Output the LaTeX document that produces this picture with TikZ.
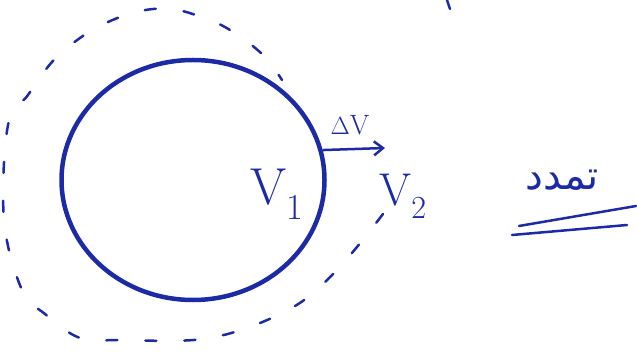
\documentclass[tikz,border=0pt]{standalone}
\usepackage{fontspec}
\newfontfamily\arabicfont[Script=Arabic]{DejaVu Sans}
\TeXXeTstate=1
\usepackage{xcolor}
\definecolor{inkblue}{RGB}{28,42,165}
\usepackage{tikz}
\usetikzlibrary{shapes.geometric, arrows.meta, positioning}

\begin{document}
\begin{tikzpicture}[x=1pt, y=-1pt,
  bubble/.style={ellipse, draw=inkblue, line width=4.5pt,
                 minimum width=263pt, minimum height=240pt, inner sep=0pt},
  shell/.style={draw=inkblue, line width=2.5pt, line cap=round,
                dash pattern=on 11pt off 28pt},
  lbl/.style={text=inkblue, inner sep=0pt},
  arr/.style={-{Straight Barb[length=9pt, width=14pt]}, draw=inkblue, line width=2.5pt},
  uline/.style={draw=inkblue, line width=2.5pt, line cap=round}
]
\useasboundingbox (0,0) rectangle (637,355);
% balloon before and after
\node[bubble] (balloon) at (193,180) {};
\draw[shell] plot[smooth, tension=0.6] coordinates {(383,214) (336,271) (288,310) (210,338) (120,340) (80,338) (45,314) (22,290) (4,220) (8,125) (28,95) (52,62) (80,38) (108,22) (140,11) (172,9) (204,18) (230,30) (262,54) (282,80)};
% growth arrow
\coordinate (tip) at (385,148);
\draw[arr] (balloon.13) -- (tip);
\node[lbl, font=\fontsize{28}{30}\selectfont] (dv) at (350,125) {$\Delta$V};
\node[lbl, font=\fontsize{52}{56}\selectfont] (v1) at (277,194) {V\textsubscript{1}};
\node[lbl, font=\fontsize{46}{50}\selectfont] (v2) at (403,196) {V\textsubscript{2}};
% label: expansion
\node[lbl, font=\arabicfont\fontsize{40}{44}\selectfont] (word) at (562,180) {\beginR تمدد\endR};
\coordinate (a1) at (519,226); \coordinate (a2) at (636,206);
\coordinate (b1) at (512,235); \coordinate (b2) at (627,225);
\draw[uline] (a1) -- (a2);
\draw[uline] (b1) -- (b2);
\coordinate (m1) at (447,0); \coordinate (m2) at (450,9);
\draw[uline] (m1) -- (m2);
\end{tikzpicture}
\end{document}
